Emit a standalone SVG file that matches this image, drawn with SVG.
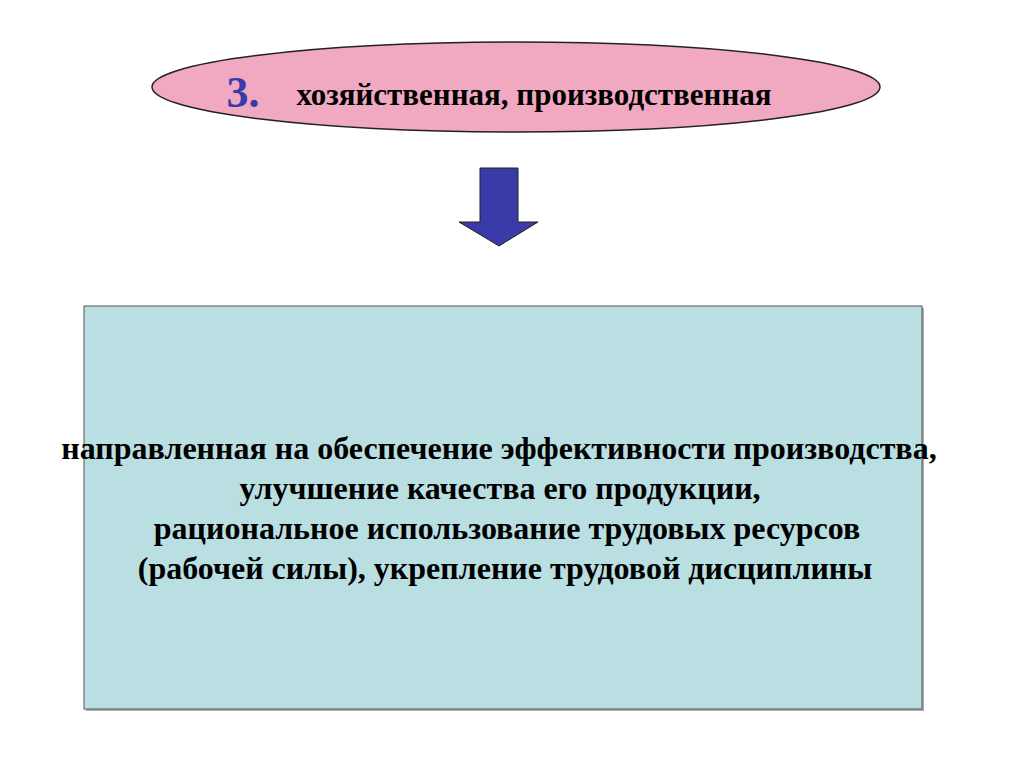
<svg xmlns="http://www.w3.org/2000/svg" width="1024" height="767" viewBox="0 0 1024 767">
<style>
text{font-family:'Liberation Serif','Times New Roman',serif !important;font-weight:bold !important}
</style>
<rect width="1024" height="767" fill="#ffffff"/>
<g id="node-title">
<ellipse cx="516" cy="87" rx="364" ry="45" fill="#f0a9c0" stroke="#222" stroke-width="1.5"/>
<text x="243" y="107" text-anchor="middle" font-family="Liberation Serif" font-weight="bold" font-size="44" fill="#3a3aa8" style="font-family:'Liberation Serif',serif !important">3.</text>
<text x="534" y="105" text-anchor="middle" font-family="Liberation Serif" font-weight="bold" font-size="31" fill="#000" style="font-family:'Liberation Serif',serif !important">хозяйственная, производственная</text>
</g>
<g id="connectors">
<polygon points="480,168 518,168 518,222 538,222 499,246 459,222 480,222" fill="#3a3aa8" stroke="#222" stroke-width="1"/>
</g>
<g id="node-box">
<rect x="86" y="308" width="838" height="403" fill="#777" opacity="0.6"/>
<rect x="84" y="306" width="838" height="403" fill="#b9dfe3" stroke="#555" stroke-width="1"/>
<text x="499" y="459" text-anchor="middle" font-family="Liberation Serif" font-weight="bold" font-size="32" fill="#000" style="font-family:'Liberation Serif',serif !important">направленная на обеспечение эффективности производства,</text>
<text x="500" y="499" text-anchor="middle" font-family="Liberation Serif" font-weight="bold" font-size="32" fill="#000" style="font-family:'Liberation Serif',serif !important">улучшение качества его продукции,</text>
<text x="507" y="539" text-anchor="middle" font-family="Liberation Serif" font-weight="bold" font-size="32" fill="#000" style="font-family:'Liberation Serif',serif !important">рациональное использование трудовых ресурсов</text>
<text x="505" y="579" text-anchor="middle" font-family="Liberation Serif" font-weight="bold" font-size="32" fill="#000" style="font-family:'Liberation Serif',serif !important">(рабочей силы), укрепление трудовой дисциплины</text>
</g>
</svg>
